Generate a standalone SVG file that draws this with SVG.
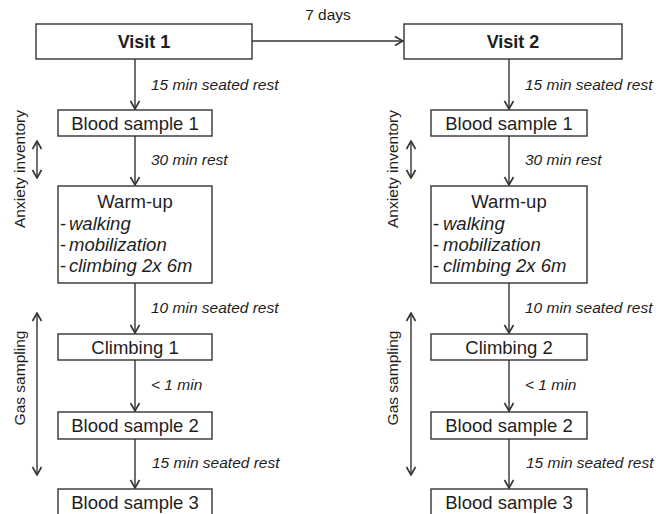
<svg xmlns="http://www.w3.org/2000/svg" width="656" height="514" viewBox="0 0 656 514">
<defs>
<marker id="ah" viewBox="0 0 12 12" refX="11" refY="6" markerWidth="12" markerHeight="12" markerUnits="userSpaceOnUse" orient="auto-start-reverse">
<path d="M3,1.5 L11,6 L3,10.5" fill="none" stroke="#333" stroke-width="1.6"/>
</marker>
<style>
rect{fill:#fff;stroke:#333;stroke-width:1.4}
.ln{stroke:#333;stroke-width:1.4;fill:none}
text{font-family:"Liberation Sans",Arial,sans-serif;fill:#1e1e1e}
.bx{font-size:18.5px;text-anchor:middle}
.vt{font-size:18px;font-weight:bold;text-anchor:middle}
.lb{font-size:15.5px;font-style:italic}
.it{font-size:18.5px;font-style:italic}
.sd{font-size:15.5px;text-anchor:middle}
</style>
</defs>
<g id="connectors">
<line class="ln" x1="252" y1="41" x2="403" y2="41" marker-end="url(#ah)"/>
<line class="ln" x1="135" y1="59" x2="135" y2="109" marker-end="url(#ah)"/>
<line class="ln" x1="135" y1="136" x2="135" y2="185" marker-end="url(#ah)"/>
<line class="ln" x1="135" y1="283" x2="135" y2="333" marker-end="url(#ah)"/>
<line class="ln" x1="135" y1="360" x2="135" y2="411" marker-end="url(#ah)"/>
<line class="ln" x1="135" y1="439" x2="135" y2="488" marker-end="url(#ah)"/>
<line class="ln" x1="509" y1="59" x2="509" y2="109" marker-end="url(#ah)"/>
<line class="ln" x1="509" y1="136" x2="509" y2="185" marker-end="url(#ah)"/>
<line class="ln" x1="509" y1="283" x2="509" y2="333" marker-end="url(#ah)"/>
<line class="ln" x1="509" y1="360" x2="509" y2="411" marker-end="url(#ah)"/>
<line class="ln" x1="509" y1="439" x2="509" y2="488" marker-end="url(#ah)"/>
<line class="ln" x1="37" y1="141" x2="37" y2="178" marker-start="url(#ah)" marker-end="url(#ah)"/>
<line class="ln" x1="37" y1="313" x2="37" y2="475" marker-start="url(#ah)" marker-end="url(#ah)"/>
<line class="ln" x1="411" y1="141" x2="411" y2="178" marker-start="url(#ah)" marker-end="url(#ah)"/>
<line class="ln" x1="411" y1="313" x2="411" y2="475" marker-start="url(#ah)" marker-end="url(#ah)"/>
</g>
<g id="labels">
<text class="lb" x="328" y="20" style="font-style:normal;text-anchor:middle">7 days</text>
<text class="lb" x="151" y="90">15 min seated rest</text>
<text class="lb" x="151" y="165">30 min rest</text>
<text class="lb" x="151" y="313">10 min seated rest</text>
<text class="lb" x="151" y="390">&lt; 1 min</text>
<text class="lb" x="152" y="468">15 min seated rest</text>
<text class="lb" x="525" y="90">15 min seated rest</text>
<text class="lb" x="525" y="165">30 min rest</text>
<text class="lb" x="525" y="313">10 min seated rest</text>
<text class="lb" x="525" y="390">&lt; 1 min</text>
<text class="lb" x="526" y="468">15 min seated rest</text>
<text class="sd" transform="translate(25,169) rotate(-90)">Anxiety inventory</text>
<text class="sd" transform="translate(25,378) rotate(-90)">Gas sampling</text>
<text class="sd" transform="translate(398,169) rotate(-90)">Anxiety inventory</text>
<text class="sd" transform="translate(398,378) rotate(-90)">Gas sampling</text>
</g>
<g id="visit1"><rect x="36" y="24" width="216" height="35"/><text class="vt" x="144" y="48">Visit 1</text></g>
<g id="blood1a"><rect x="58" y="110" width="154" height="26"/><text class="bx" x="135" y="129.5">Blood sample 1</text></g>
<g id="warmup1"><rect x="58" y="186" width="154" height="97"/><text class="bx" x="135" y="208">Warm-up</text>
<text class="bx" x="60" y="230" style="text-anchor:start">-</text><text class="it" x="69" y="230">walking</text>
<text class="bx" x="60" y="251" style="text-anchor:start">-</text><text class="it" x="69" y="251">mobilization</text>
<text class="bx" x="60" y="272" style="text-anchor:start">-</text><text class="it" x="69" y="272">climbing 2x 6m</text></g>
<g id="climb1"><rect x="58" y="334" width="154" height="26"/><text class="bx" x="135" y="353.5">Climbing 1</text></g>
<g id="blood2a"><rect x="58" y="412" width="154" height="27"/><text class="bx" x="135" y="432">Blood sample 2</text></g>
<g id="blood3a"><rect x="58" y="489" width="154" height="30"/><text class="bx" x="135" y="509">Blood sample 3</text></g>
<g id="visit2"><rect x="404" y="24" width="218" height="35"/><text class="vt" x="513" y="48">Visit 2</text></g>
<g id="blood1b"><rect x="431" y="110" width="156" height="26"/><text class="bx" x="509" y="129.5">Blood sample 1</text></g>
<g id="warmup2"><rect x="431" y="186" width="156" height="97"/><text class="bx" x="509" y="208">Warm-up</text>
<text class="bx" x="433" y="230" style="text-anchor:start">-</text><text class="it" x="443" y="230">walking</text>
<text class="bx" x="433" y="251" style="text-anchor:start">-</text><text class="it" x="443" y="251">mobilization</text>
<text class="bx" x="433" y="272" style="text-anchor:start">-</text><text class="it" x="443" y="272">climbing 2x 6m</text></g>
<g id="climb2"><rect x="431" y="334" width="156" height="26"/><text class="bx" x="509" y="353.5">Climbing 2</text></g>
<g id="blood2b"><rect x="431" y="412" width="156" height="27"/><text class="bx" x="509" y="432">Blood sample 2</text></g>
<g id="blood3b"><rect x="431" y="489" width="156" height="30"/><text class="bx" x="509" y="509">Blood sample 3</text></g>
</svg>
